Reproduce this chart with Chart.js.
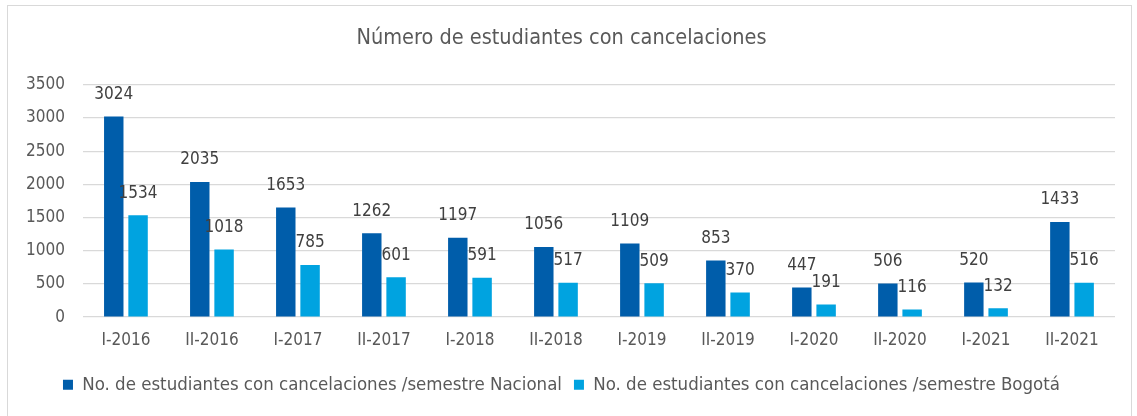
<!DOCTYPE html>
<html>
<head>
<meta charset="utf-8">
<script src="https://cdn.jsdelivr.net/npm/chart.js@4"></script>
<style>
  body { margin: 0; background: #fff; }
  #wrap { position: relative; width: 1137px; height: 416px; }
  #frame { position: absolute; left: 7px; top: 5px; width: 1123px; height: 420px; border: 1px solid #d9d9d9; pointer-events: none; }
</style>
</head>
<body>
<div id="wrap">
  <canvas id="chart" width="1137" height="416"></canvas>
  <div id="frame"></div>
</div>
<script>
const semestres = ["I-2016", "II-2016", "I-2017", "II-2017", "I-2018", "II-2018", "I-2019", "II-2019", "I-2020", "II-2020", "I-2021", "II-2021"];
const nacional = [3024, 2035, 1653, 1262, 1197, 1056, 1109, 853, 447, 506, 520, 1433];
const bogota = [1534, 1018, 785, 601, 591, 517, 509, 370, 191, 116, 132, 516];
const yTicks = [0, 500, 1000, 1500, 2000, 2500, 3000, 3500];

const fuente = "'DejaVu Sans Condensed', 'DejaVu Sans', sans-serif";
const gris = "#595959";

// etiquetas de valor encima de cada barra
const etiquetas = {
    id: "etiquetas",
    afterDatasetsDraw(chart) {
        const c = chart.ctx;
        c.save();
        c.font = "17px " + fuente;
        c.fillStyle = "#404040";
        c.textAlign = "center";
        c.textBaseline = "middle";
        chart.data.datasets.forEach((ds, i) => {
            chart.getDatasetMeta(i).data.forEach((bar, j) => {
                c.fillText(ds.data[j], bar.x, bar.y - 22);
            });
        });
        c.restore();
    }
};

new Chart(document.getElementById("chart"), {
    type: "bar",
    data: {
        labels: semestres,
        datasets: [
            { label: "No. de estudiantes con cancelaciones /semestre Nacional", data: nacional, backgroundColor: "#005daa" },
            { label: "No. de estudiantes con cancelaciones /semestre Bogotá", data: bogota, backgroundColor: "#00a3e0" }
        ]
    },
    options: {
        responsive: false,
        animation: false,
        categoryPercentage: 0.565,
        barPercentage: 0.8,
        layout: { padding: { top: 26, right: 22, bottom: 12, left: 8 } },
        plugins: {
            title: {
                display: true,
                text: "Número de estudiantes con cancelaciones",
                color: gris,
                font: { family: fuente, size: 21.5, weight: "normal" },
                padding: { top: 0, bottom: 33 }
            },
            legend: {
                position: "bottom",
                labels: {
                    color: gris,
                    font: { family: fuente, size: 18.5 },
                    boxWidth: 10,
                    boxHeight: 10,
                    padding: 12
                }
            },
            tooltip: { enabled: false }
        },
        scales: {
            x: {
                grid: { display: false, drawTicks: false },
                border: { display: false },
                ticks: { color: gris, font: { family: fuente, size: 17 }, padding: 13 }
            },
            y: {
                min: yTicks[0],
                max: yTicks[yTicks.length - 1],
                afterBuildTicks(axis) { axis.ticks = yTicks.map(v => ({ value: v })); },
                grid: { color: "#d9d9d9", lineWidth: 1.3, drawTicks: false },
                border: { display: false },
                ticks: { color: gris, font: { family: fuente, size: 17 }, padding: 18, callback: v => String(v) }
            }
        }
    },
    plugins: [etiquetas]
});
</script>
</body>
</html>
